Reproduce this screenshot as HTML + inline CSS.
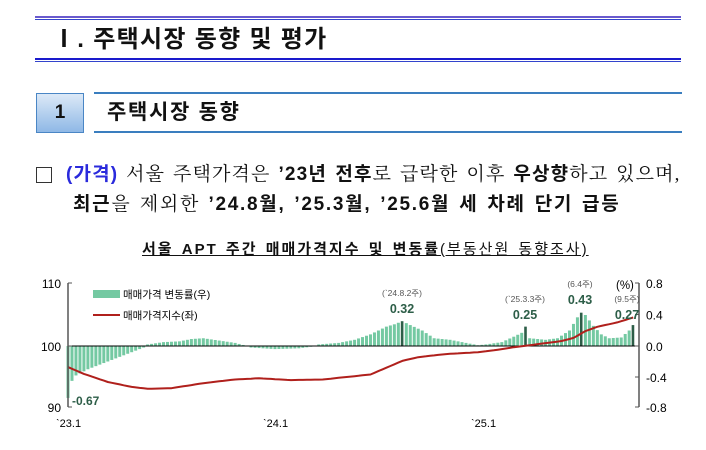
<!DOCTYPE html>
<html><head><meta charset="utf-8"><style>
body{margin:0;width:706px;height:450px;background:#fff;position:relative;overflow:hidden;font-family:"Liberation Sans","Noto Sans CJK KR",sans-serif;color:#111}
.a{position:absolute;white-space:nowrap}
.sr{font-family:"Liberation Serif","Noto Serif CJK SC",serif}
.sr b{font-family:"Liberation Sans","Noto Sans CJK KR",sans-serif}
</style></head><body>
<div class="a" style="left:35px;top:16px;width:646px;height:2px;background:#6a5acd"></div>
<div class="a" style="left:35px;top:19px;width:646px;height:1px;background:#3344cc"></div>
<div class="a" style="left:52px;top:25px;font-size:24px;font-weight:bold;line-height:30px;letter-spacing:1.3px">Ⅰ. 주택시장 동향 및 평가</div>
<div class="a" style="left:35px;top:58px;width:646px;height:2px;background:#1a1acc"></div>
<div class="a" style="left:35px;top:61px;width:646px;height:1px;background:#3344cc"></div>
<div class="a" style="left:36px;top:93px;width:46px;height:38px;background:linear-gradient(#dce9f7,#8fb8e6);border:1px solid #4a86c5;font-size:19px;font-weight:bold;text-align:center;line-height:38px">1</div>
<div class="a" style="left:94px;top:92px;width:588px;height:2px;background:#3a7ebf"></div>
<div class="a" style="left:94px;top:131px;width:588px;height:2px;background:#3a7ebf"></div>
<div class="a" style="left:107px;top:99px;font-size:21px;font-weight:bold;line-height:28px;letter-spacing:1.7px">주택시장 동향</div>
<div class="a" style="left:36px;top:167px;width:14px;height:14px;border:1px solid #333"></div>
<div class="a sr" style="left:66px;top:162px;font-size:19px;line-height:26px;letter-spacing:1.15px;word-spacing:2px"><b style="color:#2a2adc">(가격)</b> 서울 주택가격은 <b>’23년 전후</b>로 급락한 이후 <b>우상향</b>하고 있으며,</div>
<div class="a sr" style="left:73px;top:192px;font-size:19px;line-height:26px;letter-spacing:1.7px;word-spacing:2px"><b>최근</b>을 제외한 <b>’24.8월, ’25.3월, ’25.6월 세 차례 단기 급등</b></div>
<div class="a" style="left:142px;top:240px;font-size:15px;line-height:20px;text-decoration:underline;letter-spacing:2px;word-spacing:2px"><b>서울 APT 주간 매매가격지수 및 변동률</b>(부동산원 동향조사)</div>
<svg class="a" style="left:0;top:0" width="706" height="450" id="c" font-family="Liberation Sans, Noto Sans CJK KR, sans-serif"></svg>
<script>
var s='';
function X(w){return 68+w*3.98}
function Y(p){return 346-p*77.5}
function YI(v){return 346-(v-100)*6.2}
function interp(k,w){for(var i=0;i<k.length-1;i++){if(w>=k[i][0]&&w<=k[i+1][0]){var t=(w-k[i][0])/(k[i+1][0]-k[i][0]);return k[i][1]+t*(k[i+1][1]-k[i][1]);}}return k[k.length-1][1];}
var bk=[[0,-0.67],[1,-0.45],[2,-0.38],[5,-0.3],[9,-0.22],[14,-0.12],[19,-0.02],[20,0.02],[24,0.05],[28,0.06],[31,0.09],[34,0.1],[38,0.07],[42,0.04],[45,0.0],[46,-0.02],[52,-0.04],[58,-0.03],[61,-0.01],[63,0.02],[68,0.04],[72,0.08],[76,0.15],[80,0.25],[82,0.28],[84,0.32],[86,0.27],[89,0.2],[92,0.1],[96,0.08],[100,0.04],[103,0.01],[105,0.02],[109,0.05],[112,0.12],[114,0.17],[115,0.25],[116,0.1],[120,0.08],[123,0.1],[126,0.2],[128,0.37],[129,0.43],[130,0.4],[132,0.26],[134,0.15],[136,0.1],[139,0.11],[141,0.2],[142,0.27]];
for(var w=0;w<=142;w++){var v=interp(bk,w);var hi=(w==84||w==115||w==129||w==142);var y=Y(v);var h=Math.abs(Y(v)-346);
s+='<rect x="'+(X(w)-1.5)+'" y="'+(v>0?y:346)+'" width="'+(hi?2.6:3)+'" height="'+Math.max(h,0.5)+'" fill="'+(hi?'#2d5e48':'#74c9a2')+'"/>';}
s+='<line x1="68" y1="346" x2="639" y2="346" stroke="#000" stroke-width="1"/>';
var ik=[[0,96.6],[4,95.5],[10,94.2],[16,93.4],[20,93.1],[26,93.2],[34,94],[42,94.6],[48,94.8],[56,94.5],[64,94.6],[70,95],[76,95.4],[80,96.5],[84,97.6],[88,98.2],[95,98.7],[103,99.0],[107,99.3],[112,99.8],[118,100.3],[124,100.8],[127,101.3],[130,102.4],[133,103.1],[138,103.8],[142,104.6]];
var d='';for(var w=0;w<=142;w++){d+=(w?'L':'M')+X(w).toFixed(1)+' '+YI(interp(ik,w)).toFixed(1);}
s+='<path d="'+d+'" fill="none" stroke="#b0201c" stroke-width="2" stroke-linejoin="round"/>';
s+='<line x1="68" y1="283" x2="68" y2="407" stroke="#555" stroke-width="1.5"/><line x1="639" y1="283" x2="639" y2="407" stroke="#555" stroke-width="1.5"/>';
[[283,'110','0.8'],[346,'100','0.0'],[407,'90','-0.8'],[314.5,'','0.4'],[377,'','-0.4']].forEach(function(a){
if(a[1]){s+='<line x1="68" y1="'+a[0]+'" x2="72" y2="'+a[0]+'" stroke="#555"/><text x="61" y="'+(a[0]+5)+'" font-size="12" text-anchor="end">'+a[1]+'</text>';}
s+='<line x1="635" y1="'+a[0]+'" x2="639" y2="'+a[0]+'" stroke="#555"/><text x="646" y="'+(a[0]+5)+'" font-size="12">'+a[2]+'</text>';});
s+='<text x="56" y="427" font-size="11">\u02CB23.1</text><text x="263" y="427" font-size="11">\u02CB24.1</text><text x="471" y="427" font-size="11">\u02CB25.1</text>';
s+='<rect x="93" y="290" width="27" height="8" fill="#74c9a2"/><text x="123" y="298" font-size="10.5">매매가격 변동률(우)</text>';
s+='<line x1="93" y1="315" x2="120" y2="315" stroke="#b0201c" stroke-width="2"/><text x="123" y="319" font-size="10.5">매매가격지수(좌)</text>';
s+='<text x="72" y="405" font-size="12" font-weight="bold" fill="#2d5e48">-0.67</text>';
function L(x,sm,big,sy){s+='<text x="'+x+'" y="'+sy+'" font-size="8.5" fill="#555" text-anchor="middle">'+sm+'</text><text x="'+x+'" y="'+(sy+17)+'" font-size="12.5" font-weight="bold" fill="#2d5e48" text-anchor="middle">'+big+'</text>';}
L(402,'(\u02CB24.8.2주)','0.32',296);L(525,'(\u02CB25.3.3주)','0.25',302);L(580,'(6.4주)','0.43',287);L(627,'(9.5주)','0.27',302);
s+='<text x="616" y="289" font-size="11.5">(%)</text>';
document.getElementById('c').innerHTML=s;
</script>
</body></html>
